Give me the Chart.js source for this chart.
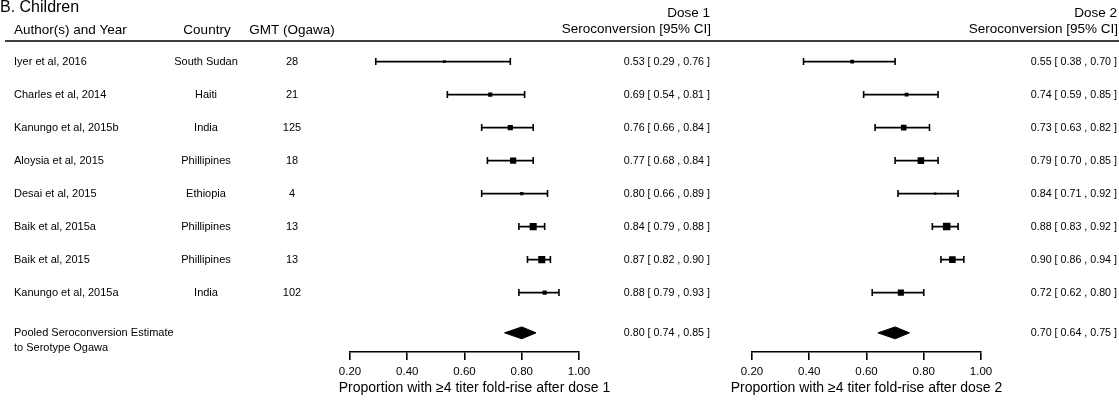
<!DOCTYPE html>
<html>
<head>
<meta charset="utf-8">
<script src="https://cdn.jsdelivr.net/npm/chart.js@4.4.0/dist/chart.umd.min.js"></script>
<style>
  body { margin: 0; background: #fff; }
  #wrap { position: relative; width: 1119px; height: 404px; }
  #wrap canvas { position: absolute; left: 0; top: 0; }
</style>
</head>
<body>
<div id="wrap">
  <canvas id="dose1" width="1119" height="404"></canvas>
  <canvas id="dose2" width="1119" height="404"></canvas>
</div>
<script>
const authors = ["Iyer et al, 2016", "Charles et al, 2014", "Kanungo et al, 2015b", "Aloysia et al, 2015",
  "Desai et al, 2015", "Baik et al, 2015a", "Baik et al, 2015", "Kanungo et al, 2015a"];
const countries = ["South Sudan", "Haiti", "India", "Phillipines", "Ethiopia", "Phillipines", "Phillipines", "India"];
const gmtOgawa = [28, 21, 125, 18, 4, 13, 13, 102];

const dose1Est = [0.53, 0.69, 0.76, 0.77, 0.80, 0.84, 0.87, 0.88];
const dose1Lo  = [0.29, 0.54, 0.66, 0.68, 0.66, 0.79, 0.82, 0.79];
const dose1Hi  = [0.76, 0.81, 0.84, 0.84, 0.89, 0.88, 0.90, 0.93];
const dose1Weight = [6, 9, 11, 13, 7, 15, 15, 9];
const dose1Pooled = [0.80, 0.74, 0.85];

const dose2Est = [0.55, 0.74, 0.73, 0.79, 0.84, 0.88, 0.90, 0.72];
const dose2Lo  = [0.38, 0.59, 0.63, 0.70, 0.71, 0.83, 0.86, 0.62];
const dose2Hi  = [0.70, 0.85, 0.82, 0.85, 0.92, 0.92, 0.94, 0.80];
const dose2Weight = [8, 8, 12, 14, 5, 16, 14, 13];
const dose2Pooled = [0.70, 0.64, 0.75];

const xTicks = [0.2, 0.4, 0.6, 0.8, 1.0];

// layout
const FAMILY = '"Liberation Sans", Arial, Helvetica, sans-serif';
const POOLED_ROW = 9.22;
const DIAMOND_HALF = 0.18;
const font = size => size + "px " + FAMILY;
const fmt = v => v.toFixed(2);
const ciText = (e, l, h) => fmt(e) + " [ " + fmt(l) + " , " + fmt(h) + " ]";

function buildDatasets(est, lo, hi, weight, pooled) {
  const sets = [];
  est.forEach((e, i) => {
    sets.push({
      data: [{ x: lo[i], y: i + 1 }, { x: hi[i], y: i + 1 }],
      borderColor: "#000", borderWidth: 1.6,
      pointStyle: "line", pointRotation: 90, pointRadius: 3.5,
      pointBorderColor: "#000", pointBorderWidth: 1.6, fill: false
    });
  });
  sets.push({
    data: est.map((e, i) => ({ x: e, y: i + 1 })),
    showLine: false,
    pointStyle: "rect",
    pointRadius: weight.map(w => w * 0.47 / Math.SQRT2),
    pointBackgroundColor: "#000", pointBorderWidth: 0
  });
  const [pe, pl, ph] = pooled;
  sets.push({
    data: [
      { x: pl, y: POOLED_ROW }, { x: pe, y: POOLED_ROW - DIAMOND_HALF },
      { x: ph, y: POOLED_ROW }, { x: pe, y: POOLED_ROW + DIAMOND_HALF },
      { x: pl, y: POOLED_ROW }
    ],
    borderColor: "#000", borderWidth: 1, backgroundColor: "#000",
    fill: "shape", pointRadius: 0
  });
  return sets;
}

const textPlugin = {
  id: "tableText",
  afterDraw(chart, args, o) {
    const ctx = chart.ctx;
    const ys = chart.scales.y, xs = chart.scales.x;
    ctx.save();
    ctx.fillStyle = "#000";

    if (o.table) {
      ctx.textBaseline = "alphabetic";
      ctx.textAlign = "left";
      ctx.font = font(16);
      ctx.fillText("B. Children", 0, 12);
      ctx.font = font(13.5);
      ctx.fillText("Author(s) and Year", 14, 34);
      ctx.textAlign = "center";
      ctx.fillText("Country", 207, 34);
      ctx.fillText("GMT (Ogawa)", 292, 34);

      ctx.strokeStyle = "#000";
      ctx.lineWidth = 1.5;
      ctx.beginPath();
      ctx.moveTo(5, 41);
      ctx.lineTo(1119, 41);
      ctx.stroke();

      ctx.font = font(11);
      ctx.textBaseline = "middle";
      authors.forEach((a, i) => {
        const y = ys.getPixelForValue(i + 1);
        ctx.textAlign = "left";
        ctx.fillText(a, 14, y);
        ctx.textAlign = "center";
        ctx.fillText(countries[i], 206, y);
        ctx.fillText(String(gmtOgawa[i]), 292, y);
      });
      const py = ys.getPixelForValue(POOLED_ROW);
      ctx.textAlign = "left";
      ctx.fillText("Pooled Seroconversion Estimate", 14, py);
      ctx.fillText("to Serotype Ogawa", 14, py + 15);
    }

    // dose header
    ctx.textAlign = "right";
    ctx.textBaseline = "alphabetic";
    ctx.font = font(13.5);
    ctx.fillText(o.dose, o.estRight, 17);
    ctx.fillText("Seroconversion [95% CI]", o.estRight + 1, 33);

    // estimate column
    ctx.font = font(10.7);
    ctx.textBaseline = "middle";
    o.est.forEach((e, i) => {
      ctx.fillText(ciText(e, o.lo[i], o.hi[i]), o.estRight, ys.getPixelForValue(i + 1));
    });
    ctx.fillText(ciText(...o.pooled), o.estRight, ys.getPixelForValue(POOLED_ROW));

    // axis title
    ctx.textAlign = "center";
    ctx.font = font(14);
    ctx.fillText(o.xTitle, (xs.left + xs.right) / 2 + o.titleShift, 388);
    ctx.restore();
  }
};

function makeChart(id, est, lo, hi, weight, pooled, o) {
  return new Chart(document.getElementById(id), {
    type: "line",
    data: { datasets: buildDatasets(est, lo, hi, weight, pooled) },
    options: {
      responsive: false,
      animation: false,
      events: [],
      layout: { padding: { left: o.left, right: o.right, top: 28.6, bottom: 0 } },
      plugins: {
        legend: { display: false },
        tooltip: { enabled: false },
        tableText: Object.assign({ est, lo, hi, pooled }, o)
      },
      scales: {
        x: {
          type: "linear", min: 0.2, max: 1.0,
          afterBuildTicks: s => { s.ticks = xTicks.map(v => ({ value: v })); },
          afterFit: s => { s.height = 52; },
          border: { display: true, color: "#000", width: 1.6 },
          grid: { drawOnChartArea: false, drawTicks: true, tickLength: 8, color: "#000", lineWidth: 1.6 },
          ticks: {
            callback: v => v.toFixed(2),
            font: { size: 11.5, family: FAMILY }, color: "#000",
            padding: 5, maxRotation: 0, autoSkip: false
          }
        },
        y: { type: "linear", display: false, min: 0, max: 9.8, reverse: true }
      }
    },
    plugins: [textPlugin]
  });
}

makeChart("dose1", dose1Est, dose1Lo, dose1Hi, dose1Weight, dose1Pooled, {
  left: 350, right: 540, table: true, dose: "Dose 1", estRight: 710, titleShift: 10,
  xTitle: "Proportion with \u22654 titer fold-rise after dose 1"
});
makeChart("dose2", dose2Est, dose2Lo, dose2Hi, dose2Weight, dose2Pooled, {
  left: 752, right: 138, table: false, dose: "Dose 2", estRight: 1117, titleShift: 0,
  xTitle: "Proportion with \u22654 titer fold-rise after dose 2"
});
</script>
</body>
</html>
